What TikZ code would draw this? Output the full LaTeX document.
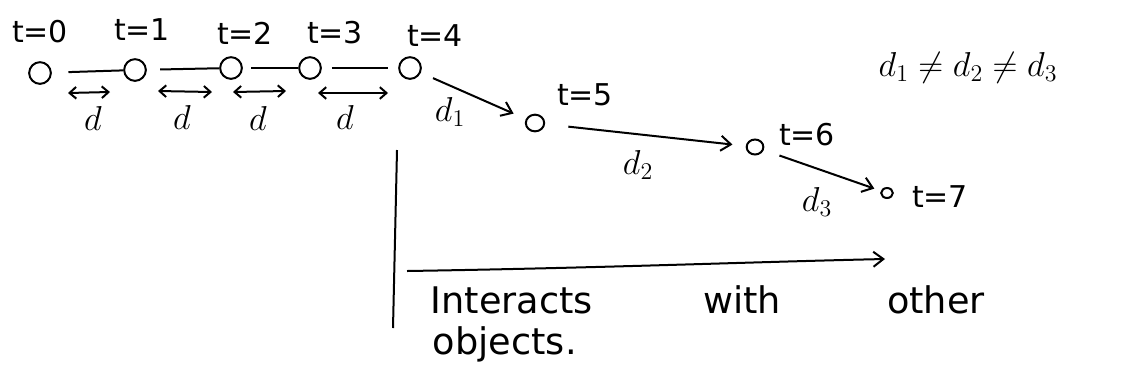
\documentclass[tikz,border=0pt]{standalone}
\usepackage{fontspec}
\setmainfont{DejaVu Sans}
\usetikzlibrary{arrows.meta,shapes.geometric}
\begin{document}
\begin{tikzpicture}[x=0.6pt,y=-0.6pt,
  ink/.style={line width=1.2pt,black},
  obj/.style={circle,draw,line width=1.2pt,inner sep=0pt,minimum width=12pt,minimum height=13pt},
  smallobj/.style={ellipse,draw,line width=1.2pt,inner sep=0pt,minimum width=9pt,minimum height=8pt},
  lbl/.style={font=\fontsize{18}{20}\selectfont},
  dl/.style={font=\fontsize{22}{24}\selectfont},
  big/.style={font=\fontsize{22}{26}\selectfont},
  barb/.style={-{Straight Barb[length=6pt,width=9pt]}},
  dbl/.style={{Straight Barb[length=4pt,width=7pt]}-{Straight Barb[length=4pt,width=7pt]}}
]
\useasboundingbox (0,0) rectangle (1143,381);
% objects
\node[obj] (o0) at (40,73) {};
\node[obj] (o1) at (135,70) {};
\node[obj] (o2) at (231,68) {};
\node[obj] (o3) at (310,68) {};
\node[obj] (o4) at (410,68) {};
\node[smallobj,minimum width=11pt,minimum height=10pt] (o5) at (535,123) {};
\node[smallobj,minimum width=10pt,minimum height=9pt] (o6) at (755,147) {};
\node[smallobj,minimum width=7pt,minimum height=6pt] (o7) at (887,193) {};
% time labels
\node[lbl] (t0) at (40,32) {t=0};
\node[lbl] (t1) at (142,30) {t=1};
\node[lbl] (t2) at (245,33) {t=2};
\node[lbl] (t3) at (335,33) {t=3};
\node[lbl] (t4) at (435,36) {t=4};
\node[lbl] (t5) at (585,95) {t=5};
\node[lbl] (t6) at (807,135) {t=6};
\node[lbl] (t7) at (940,197) {t=7};
% connectors along the straight part
\draw[ink,shorten <=10pt,shorten >=0pt] (o0) -- (o1);
\draw[ink,shorten <=8pt,shorten >=0pt] (o1) -- (o2);
\draw[ink,shorten <=5pt,shorten >=0pt] (o2) -- (o3);
\draw[ink,shorten <=6pt,shorten >=6pt] (o3) -- (o4);
% distance arrows
\coordinate (a0) at (68,93); \coordinate (b0) at (110,92);
\coordinate (a1) at (158,91); \coordinate (b1) at (212,92);
\coordinate (a2) at (233,92); \coordinate (b2) at (286,91);
\coordinate (a3) at (318,93); \coordinate (b3) at (388,93);
\draw[ink,dbl] (a0) -- (b0);
\draw[ink,dbl] (a1) -- (b1);
\draw[ink,dbl] (a2) -- (b2);
\draw[ink,dbl] (a3) -- (b3);
\node[dl] (d0) at (93,118) {$d$};
\node[dl] (d1l) at (182,117) {$d$};
\node[dl] (d2l) at (258,118) {$d$};
\node[dl] (d3l) at (345,117) {$d$};
% diverging part
\draw[ink,barb,shorten <=8pt,shorten >=8pt] (o4) -- (o5);
\draw[ink,barb,shorten <=14pt,shorten >=8pt] (o5) -- (o6);
\draw[ink,barb,shorten <=10pt,shorten >=4pt] (o6) -- (o7);
\node[dl] (dd1) at (450,112) {$d_1$};
\node[dl] (dd2) at (638,165) {$d_2$};
\node[dl] (dd3) at (817,202) {$d_3$};
\node[big] (neq) at (968,68) {$d_1 \neq d_2 \neq d_3$};
% interaction
\coordinate (v1) at (397,150);
\coordinate (v2) at (393,328);
\draw[ink] (v1) -- (v2);
\coordinate (h1) at (407,271);
\coordinate (h2) at (885,259);
\draw[ink,barb] (h1) .. controls (600,268) and (750,262) .. (h2);
\node[big,anchor=west] (txt1) at (425,300) {Interacts\hspace{3.0em}with\hspace{2.9em}other};
\node[big,anchor=west] (txt2) at (427,344) {objects.};
\end{tikzpicture}
\end{document}
